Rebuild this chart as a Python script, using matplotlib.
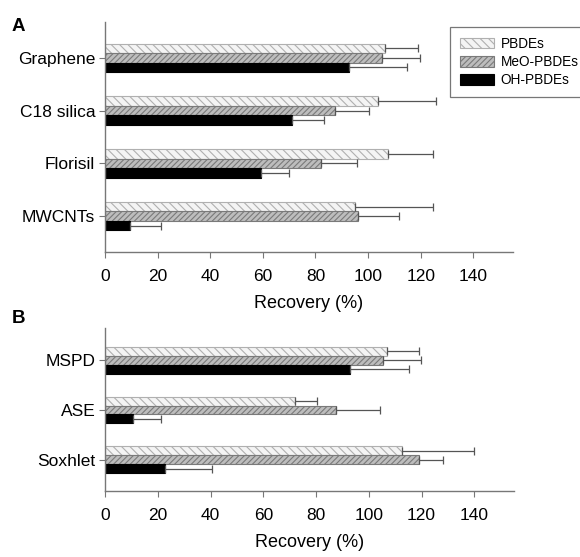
import numpy as np
import matplotlib.pyplot as plt

plt.rcParams['font.family'] = ['Liberation Sans', 'DejaVu Sans']
plt.rcParams['hatch.linewidth'] = 0.8

series = ['PBDEs', 'MeO-PBDEs', 'OH-PBDEs']

# panel A: sorbents
cats_a = ['Graphene', 'C18 silica', 'Florisil', 'MWCNTs']
pbde_a = [106.6, 103.8, 107.5, 95.1]
pbde_a_err = [12.4, 22.2, 17.3, 29.6]
meo_a = [105.3, 87.6, 82.2, 96.2]
meo_a_err = [14.3, 12.9, 13.7, 15.7]
oh_a = [92.7, 71.0, 59.4, 9.7]
oh_a_err = [22.3, 12.2, 10.5, 11.5]

# panel B: extraction methods
cats_b = ['MSPD', 'ASE', 'Soxhlet']
pbde_b = [106.9, 72.2, 112.7]
pbde_b_err = [12.3, 8.1, 27.2]
meo_b = [105.5, 87.6, 119.1]
meo_b_err = [14.3, 16.6, 9.0]
oh_b = [93.0, 10.8, 22.6]
oh_b_err = [22.2, 10.4, 17.8]

styles = [
    dict(facecolor='#f4f4f4', edgecolor='#b0b0b0', hatch='\\\\\\\\'),
    dict(facecolor='#bdbdbd', edgecolor='#7a7a7a', hatch='//////'),
    dict(facecolor='black', edgecolor='black', hatch=None),
]

fig = plt.figure(figsize=(5.8, 5.57), dpi=100)
ax_a = fig.add_axes([0.181, 0.5476, 0.703, 0.413])
ax_b = fig.add_axes([0.181, 0.1185, 0.705, 0.2926])

h = 0.18


def draw(ax, cats, vals, errs):
    y = np.arange(len(cats))
    handles = []
    for i, (v, e, st) in enumerate(zip(vals, errs, styles)):
        b = ax.barh(y + (i - 1) * h, v, height=h, xerr=[np.zeros(len(v)), e],
                    linewidth=0.8, label=series[i],
                    error_kw=dict(ecolor='#555555', elinewidth=0.9, capsize=3, capthick=0.9),
                    **st)
        handles.append(b)
    ax.set_yticks(y)
    ax.set_yticklabels(cats, fontsize=12.5)
    ax.set_xlim(0, 155)
    ax.set_xticks(np.arange(0, 141, 20))
    ax.tick_params(axis='x', labelsize=12.5, length=4, color='#777777', pad=8)
    ax.tick_params(axis='y', length=4, color='#777777', pad=3)
    for s in ['top', 'right']:
        ax.spines[s].set_visible(False)
    for s in ['left', 'bottom']:
        ax.spines[s].set_color('#777777')
        ax.spines[s].set_linewidth(1.0)
    ax.set_xlabel('Recovery (%)', fontsize=13, labelpad=8)
    return handles


hs = draw(ax_a, cats_a, [pbde_a, meo_a, oh_a], [pbde_a_err, meo_a_err, oh_a_err])
ax_a.set_ylim(3.68, -0.68)
draw(ax_b, cats_b, [pbde_b, meo_b, oh_b], [pbde_b_err, meo_b_err, oh_b_err])
ax_b.set_ylim(2.63, -0.65)

leg = fig.legend(hs, series, loc='upper left', bbox_to_anchor=(0.775, 0.952),
                 fontsize=9.8, frameon=True, fancybox=False, handlelength=2.5,
                 handleheight=0.8, labelspacing=0.3, borderpad=0.75,
                 handletextpad=0.5, borderaxespad=0)
leg.get_frame().set_edgecolor('#555555')
leg.get_frame().set_linewidth(0.9)

fig.text(0.02, 0.945, 'A', fontsize=13.5, fontweight='bold')
fig.text(0.02, 0.42, 'B', fontsize=13.5, fontweight='bold')

fig.savefig('out.png', dpi=100)
